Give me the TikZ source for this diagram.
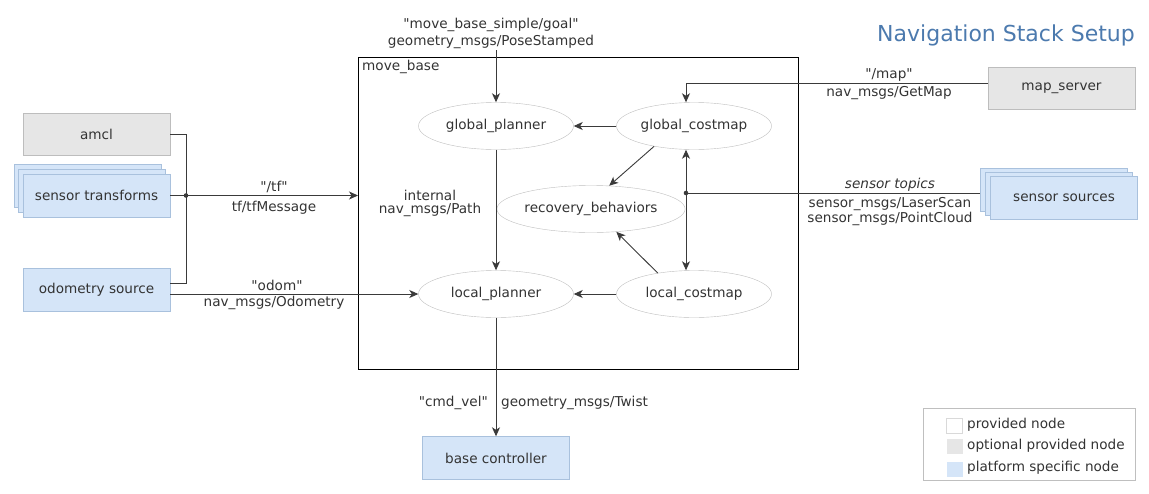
\documentclass[tikz,border=0pt]{standalone}
\usepackage{fontspec}
\setmainfont{DejaVu Sans}[Ligatures=TeXOff]
\usetikzlibrary{arrows.meta,shapes.geometric}
\definecolor{grayfill}{HTML}{E6E6E6}
\definecolor{grayline}{HTML}{BDBDBD}
\definecolor{bluefill}{HTML}{D5E5F8}
\definecolor{blueline}{HTML}{A9C1DD}
\definecolor{ellline}{HTML}{BFBFBF}
\definecolor{txt}{HTML}{333333}
\definecolor{linec}{HTML}{3A3A3A}
\definecolor{titlec}{HTML}{4C7AAE}
\newcommand{\dq}{\symbol{34}}
\begin{document}
\begin{tikzpicture}[x=1pt,y=-1pt,
  font=\fontsize{13.6}{15}\selectfont, text=txt,
  optbox/.style={draw=grayline, fill=grayfill, minimum width=147pt, minimum height=42pt, inner sep=0pt},
  platbox/.style={draw=blueline, fill=bluefill, minimum width=147pt, minimum height=43pt, inner sep=0pt},
  proc/.style={ellipse, draw=ellline, fill=white, minimum width=155pt, minimum height=47pt, inner sep=0pt},
  lbl/.style={inner sep=0pt, text=txt},
  conn/.style={draw=linec, line width=0.9pt},
  tip/.tip={Stealth[length=9pt,width=8pt,inset=2.5pt]},
  arr/.style={conn, -tip},
  swatch/.style={minimum width=16pt, minimum height=15pt, inner sep=0pt},
]
\useasboundingbox (0,0) rectangle (1149,493);

% title
\node[anchor=east, font=\fontsize{22}{26}\selectfont, text=titlec, inner sep=0pt] (title) at (1135,35) {Navigation Stack Setup};

% move_base container
\node[draw=black, line width=1.3pt, minimum width=440pt, minimum height=312pt, anchor=north west, inner sep=0pt] (mb) at (358,57) {};
\node[lbl, anchor=north west] (mblbl) at (362,60) {move\_base};

% processes
\node[proc] (gp) at (496,126) {global\_planner};
\node[proc] (gc) at (694,126) {global\_costmap};
\node[proc] (rb) at (591,209) {recovery\_behaviors};
\node[proc] (lp) at (496,294) {local\_planner};
\node[proc] (lc) at (694,294) {local\_costmap};

% left side
\node[optbox] (am) at (96.5,134.5) {amcl};
\node[platbox] (st3) at (87.5,185.5) {};
\node[platbox] (st2) at (92,190.5) {};
\node[platbox] (st) at (96.5,195.5) {sensor transforms};
\node[platbox] (od) at (96.5,289.5) {odometry source};

% right side
\node[optbox] (ms) at (1061.5,88) {map\_server};
\node[platbox] (ss3) at (1054,189.5) {};
\node[platbox] (ss2) at (1059,193.5) {};
\node[platbox] (ss) at (1064,197.5) {sensor sources};

% bottom
\node[platbox] (bc) at (496,458) {base controller};

% goal input
\node[lbl] (goal1) at (491,25) {\dq move\_base\_simple/goal\dq};
\node[lbl] (goal2) at (491,42) {geometry\_msgs/PoseStamped};
\coordinate (goalTop) at (496,50);
\draw[arr] (goalTop) -- (gp.north);

% internal edges
\draw[arr] (gc.west) -- (gp.east);
\draw[arr] (lc.west) -- (lp.east);
\draw[arr] (gp.south) -- (lp.north);
\node[lbl] (int1) at (430,195) {internal};
\node[lbl] (int2) at (430,210) {nav\_msgs/Path};
\draw[arr] (gc.-153) -- (rb.52);
\draw[arr] (lc.150) -- (rb.-42);
\draw[conn, tip-tip] ([xshift=-8pt]gc.south) -- ([xshift=-8pt]lc.north);

% map
\draw[arr] ([yshift=5pt]ms.west) -| ([xshift=-8pt]gc.north);
\node[lbl] (map1) at (889,75) {\dq/map\dq};
\node[lbl] (map2) at (889,93) {nav\_msgs/GetMap};

% sensor topics
\coordinate (sdot) at (686,193);
\draw[conn] (sdot) -- (sdot -| ss3.west);
\fill[linec] (sdot) circle (2.3);
\node[lbl, font=\fontsize{13.6}{15}\selectfont\itshape] (sen1) at (890,185) {sensor topics};
\node[lbl] (sen2) at (890,204) {sensor\_msgs/LaserScan};
\node[lbl] (sen3) at (890,219) {sensor\_msgs/PointCloud};

% tf bus
\coordinate (tfdot) at (186,195.5);
\draw[conn] (am.east) -| (tfdot);
\draw[conn] ([yshift=6pt]od.east) -| (tfdot);
\draw[arr] (st.east) -- (st.east -| mb.west);
\fill[linec] (tfdot) circle (2.3);
\node[lbl] (tf1) at (274,187) {\dq/tf\dq};
\node[lbl] (tf2) at (274,208) {tf/tfMessage};

% odom
\draw[arr] ([yshift=-4.5pt]od.east) -- (lp.west);
\node[lbl] (odo1) at (277,285) {\dq odom\dq};
\node[lbl] (odo2) at (274,303) {nav\_msgs/Odometry};

% cmd_vel
\draw[arr] (lp.south) -- (bc.north);
\node[lbl, anchor=east] (cmd1) at (488,403) {\dq cmd\_vel\dq};
\node[lbl, anchor=west] (cmd2) at (501,403) {geometry\_msgs/Twist};

% legend
\node[draw=ellline, fill=white, minimum width=212pt, minimum height=72pt, anchor=north west, inner sep=0pt] (lg) at (923,408) {};
\node[swatch, draw=ellline!60, fill=white] (lgs1) at (954.5,426) {};
\node[swatch, fill=grayfill] (lgs2) at (954.5,446) {};
\node[swatch, fill=bluefill] (lgs3) at (954.5,469) {};
\node[lbl, anchor=west] (lgt1) at (967,425) {provided node};
\node[lbl, anchor=west] (lgt2) at (967,446) {optional provided node};
\node[lbl, anchor=west] (lgt3) at (967,468) {platform specific node};
\end{tikzpicture}
\end{document}
